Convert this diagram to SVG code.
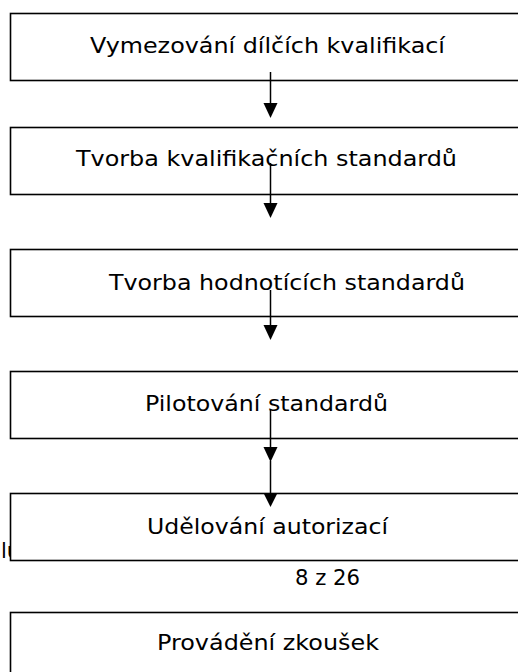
<svg xmlns="http://www.w3.org/2000/svg" width="518" height="672" viewBox="0 0 518 672">
<defs>
<style>
.box{fill:#fff;stroke:#000;stroke-width:1.6}
.t{font-family:"DejaVu Sans",Verdana,sans-serif;font-size:21px;fill:#000;text-anchor:middle}
.c{stroke:#000;stroke-width:1.5;fill:none}
.h{fill:#000}
</style>
</defs>
<rect width="518" height="672" fill="#fff"/>
<text class="t" x="1" y="558" style="text-anchor:start">lu</text>
<g id="n1"><rect class="box" x="10.5" y="13.5" width="520" height="67"/><text class="t" x="267.5" y="53" textLength="355" lengthAdjust="spacingAndGlyphs">Vymezování dílčích kvalifikací</text></g>
<g id="n2"><rect class="box" x="10.5" y="127.5" width="520" height="67"/><text class="t" x="266.5" y="166" textLength="381" lengthAdjust="spacingAndGlyphs">Tvorba kvalifikačních standardů</text></g>
<g id="n3"><rect class="box" x="10.5" y="249.5" width="520" height="67"/><text class="t" x="287" y="290" textLength="356" lengthAdjust="spacingAndGlyphs">Tvorba hodnotících standardů</text></g>
<g id="n4"><rect class="box" x="10.5" y="371.5" width="520" height="67"/><text class="t" x="266.5" y="411" textLength="243" lengthAdjust="spacingAndGlyphs">Pilotování standardů</text></g>
<g id="n5"><rect class="box" x="10.5" y="493.5" width="520" height="67"/><text class="t" x="267.5" y="534" textLength="241" lengthAdjust="spacingAndGlyphs">Udělování autorizací</text></g>
<g id="n6"><rect class="box" x="10.5" y="612.5" width="520" height="80"/><text class="t" x="268" y="650" textLength="222" lengthAdjust="spacingAndGlyphs">Provádění zkoušek</text></g>
<text class="t" x="327.5" y="585" textLength="65" lengthAdjust="spacingAndGlyphs">8 z 26</text>
<g id="connectors">
<line class="c" x1="270.5" y1="72" x2="270.5" y2="105"/><polygon class="h" points="263.5,103 277.5,103 270.5,118"/>
<line class="c" x1="270.5" y1="163" x2="270.5" y2="205"/><polygon class="h" points="263.5,203 277.5,203 270.5,218"/>
<line class="c" x1="270.5" y1="290" x2="270.5" y2="327"/><polygon class="h" points="263.5,325 277.5,325 270.5,340"/>
<line class="c" x1="270.5" y1="410" x2="270.5" y2="449"/><polygon class="h" points="263.5,447 277.5,447 270.5,462"/>
<line class="c" x1="270.5" y1="461" x2="270.5" y2="495"/><polygon class="h" points="263.5,493 277.5,493 270.5,507"/>
</g>
</svg>
